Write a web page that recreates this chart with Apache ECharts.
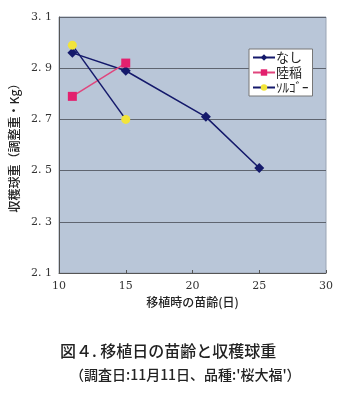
<!DOCTYPE html>
<html>
<head>
<meta charset="utf-8">
<script src="https://cdn.jsdelivr.net/npm/echarts@6/dist/echarts.min.js"></script>
<style>
  html, body { margin: 0; padding: 0; background: #fff; }
  #container { width: 351px; height: 393px; }
</style>
</head>
<body>
<div id="container"></div>
<script>
var seriesNames = ['なし', '陸稲', 'ｿﾙｺﾞｰ'];
var nashiData = [[11, 2.96], [15, 2.89], [21, 2.71], [25, 2.51]];
var rikutoData = [[11, 2.79], [15, 2.92]];
var sorgoData = [[11, 2.99], [15, 2.70]];
var yTicks = ['2.1', '2.3', '2.5', '2.7', '2.9', '3.1'];

var serif = '"DejaVu Serif", "Noto Sans CJK JP", serif';
var jp = '"Noto Sans CJK JP", sans-serif';

var myChart = echarts.init(document.getElementById('container'));
var option = {
    animation: false,
    backgroundColor: '#ffffff',
    grid: {
        left: 59,
        right: 25,
        top: 17,
        bottom: 120,
        show: true,
        backgroundColor: '#b9c6d8',
        borderColor: '#9aa5b5',
        borderWidth: 1
    },
    legend: {
        data: seriesNames,
        orient: 'vertical',
        left: 249,
        top: 49,
        itemWidth: 22,
        itemHeight: 8,
        itemGap: 2,
        padding: [2, 4, 2, 3],
        backgroundColor: '#ffffff',
        borderColor: '#777',
        borderWidth: 1,
        borderRadius: 0,
        textStyle: { fontFamily: jp, fontSize: 13, color: '#222', padding: [0, 0, 0, -4] }
    },
    xAxis: {
        type: 'value',
        min: 10,
        max: 30,
        interval: 5,
        name: '移植時の苗齢(日)',
        nameLocation: 'middle',
        nameGap: 23,
        nameTextStyle: { fontFamily: jp, fontSize: 12, fontWeight: 500, color: '#222' },
        axisLine: { lineStyle: { color: '#555' } },
        axisTick: { inside: true, length: 3, lineStyle: { color: '#555' } },
        axisLabel: { fontFamily: serif, fontSize: 11, color: '#333', margin: 8 },
        splitLine: { show: false }
    },
    yAxis: {
        type: 'value',
        min: 2.1,
        max: 3.1,
        interval: 0.2,
        name: '収穫球重（調整重・Kg）',
        nameLocation: 'middle',
        nameGap: 30,
        nameRotate: 90,
        nameTextStyle: { fontFamily: jp, fontSize: 12, fontWeight: 500, color: '#222' },
        axisLine: { show: true, lineStyle: { color: '#555' } },
        axisTick: { show: false },
        axisLabel: {
            fontFamily: serif, fontSize: 11, color: '#333', margin: 7,
            formatter: function (v) {
                var s = v.toFixed(1);
                return yTicks.indexOf(s) >= 0 ? s.replace('.', '. ') : '';
            }
        },
        splitLine: { show: true, lineStyle: { color: '#5f6570', width: 1 } }
    },
    series: [
        {
            name: seriesNames[0],
            type: 'line',
            data: nashiData,
            symbol: 'diamond',
            symbolSize: 10,
            lineStyle: { color: '#14196b', width: 1.5 },
            itemStyle: { color: '#14196b' }
        },
        {
            name: seriesNames[1],
            type: 'line',
            data: rikutoData,
            symbol: 'rect',
            symbolSize: 9,
            lineStyle: { color: '#e0457d', width: 1.5 },
            itemStyle: { color: '#e3206e' }
        },
        {
            name: seriesNames[2],
            type: 'line',
            data: sorgoData,
            symbol: 'circle',
            symbolSize: 9,
            lineStyle: { color: '#14196b', width: 1.5 },
            itemStyle: { color: '#f2e43a' }
        }
    ],
    graphic: [
        {
            type: 'text',
            left: 60,
            top: 343,
            style: { text: '図４. 移植日の苗齢と収穫球重', font: '500 16px "Noto Sans CJK JP"', fill: '#222' }
        },
        {
            type: 'text',
            left: 70,
            top: 368,
            style: { text: '（調査日:11月11日、品種:\'桜大福\'）', font: '500 14px "Noto Sans CJK JP"', fill: '#222' }
        }
    ]
};
myChart.setOption(option, true);
window.onresize = function () {
    myChart.resize();
};
</script>
</body>
</html>
